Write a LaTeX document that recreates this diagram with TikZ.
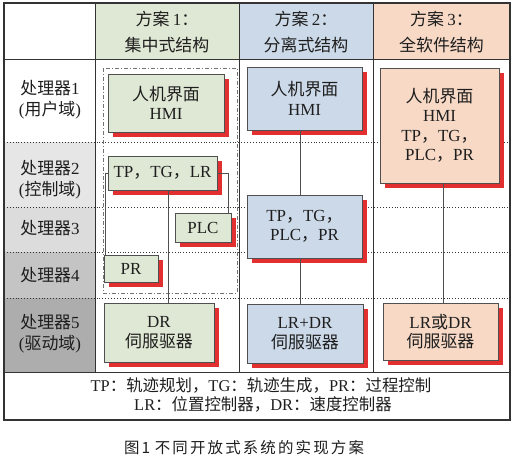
\documentclass[tikz,border=0pt]{standalone}
\usepackage{fontspec}
\setmainfont{Liberation Serif}
\newfontfamily\zhfont{Noto Sans CJK SC}
\newfontfamily\capfont{Noto Sans CJK SC}
\usetikzlibrary{shadows,calc}
\newcommand\zh[1]{{\zhfont#1}}
\definecolor{txt}{HTML}{1E1E1E}
\definecolor{boxline}{HTML}{505050}
\definecolor{gridline}{HTML}{333333}
\definecolor{shred}{HTML}{E23030}
\definecolor{gbox}{HTML}{DFE8D4}
\definecolor{bbox}{HTML}{CCD9E8}
\definecolor{pbox}{HTML}{F7D9C6}
\definecolor{gra}{HTML}{E6E6E6}
\definecolor{grb}{HTML}{DCDCDC}
\definecolor{grc}{HTML}{C4C4C4}
\definecolor{grd}{HTML}{ADADAD}
\begin{document}
\begin{tikzpicture}[x=1bp,y=-1bp,
  box/.style={draw=boxline, line width=0.8bp, inner sep=0pt, align=center, text=txt,
    font=\fontsize{17}{19.5}\selectfont,
    drop shadow={shadow xshift=5bp, shadow yshift=-5bp, fill=shred, opacity=1}},
  lab/.style={align=center, text=txt, inner sep=0pt, font=\fontsize{17}{21}\selectfont},
  head/.style={align=center, text=txt, inner sep=0pt, font=\fontsize{17}{27}\selectfont},
  foot/.style={align=center, text=txt, inner sep=0pt, font=\fontsize{16.5}{19}\selectfont},
  conn/.style={draw=boxline, line width=0.8bp},
  rowline/.style={draw=gridline, line width=0.9bp, dotted},
  colline/.style={draw=gridline, line width=0.9bp}]
\useasboundingbox (0,0) rectangle (513,458);
% backgrounds
\fill[gbox] (95,3) rectangle (239,59);
\fill[bbox] (239,3) rectangle (373,59);
\fill[pbox] (373,3) rectangle (510,59);
\fill[gra] (4,142) rectangle (95,207);
\fill[grb] (4,207) rectangle (95,252);
\fill[grc] (4,252) rectangle (95,298);
\fill[grd] (4,298) rectangle (95,372);
% grid
\foreach \yy in {142,207,252,298} \draw[rowline] (4,\yy) -- (510,\yy);
\draw[colline] (4,59) -- (510,59);
\draw[colline] (4,372) -- (510,372);
\foreach \xx in {95,239,373} \draw[colline] (\xx,3) -- (\xx,372);
\draw[draw=gridline, line width=1.3bp] (4,3) rectangle (510,420);
% dash-dot region
\draw[draw=boxline!80, line width=0.8bp, dash pattern=on 4bp off 2bp on 1bp off 2bp] (103,68) rectangle (237,293);
% headers
\node[head] (h1) at (167,32) {\zh{方案}\hspace{0.2em}1\zh{：}\\\zh{集中式结构}};
\node[head] (h2) at (306,32) {\zh{方案}\hspace{0.2em}2\zh{：}\\\zh{分离式结构}};
\node[head] (h3) at (441.5,32) {\zh{方案}\hspace{0.2em}3\zh{：}\\\zh{全软件结构}};
% row labels
\node[lab] (r1) at (50,100) {\zh{处理器}1\\(\zh{用户域})};
\node[lab] (r2) at (50,180) {\zh{处理器}2\\(\zh{控制域})};
\node[lab] (r3) at (50,228) {\zh{处理器}3};
\node[lab] (r4) at (50,275) {\zh{处理器}4};
\node[lab] (r5) at (50,334) {\zh{处理器}5\\(\zh{驱动域})};
% boxes col 1
\node[box, fill=gbox, minimum width=116bp, minimum height=58bp] (c1hmi) at (166,103) {\zh{人机界面}\\HMI};
\node[box, fill=gbox, minimum width=109bp, minimum height=34bp] (c1tp) at (162.5,173) {TP\zh{，}TG\zh{，}LR};
\node[box, fill=gbox, minimum width=56bp, minimum height=29bp] (c1plc) at (203,227.5) {PLC};
\node[box, fill=gbox, minimum width=54bp, minimum height=27bp] (c1pr) at (131,268.5) {PR};
\node[box, fill=gbox, minimum width=110bp, minimum height=59bp] (c1dr) at (159,332.5) {DR\\\zh{伺服驱器}};
% boxes col 2
\node[box, fill=bbox, minimum width=115bp, minimum height=63bp] (c2hmi) at (304.5,98.5) {\zh{人机界面}\\HMI};
\node[box, fill=bbox, minimum width=115bp, minimum height=63bp] (c2tp) at (304.5,226.5) {TP\zh{，}TG\zh{，}\\PLC\zh{，}PR};
\node[box, fill=bbox, minimum width=116bp, minimum height=59bp] (c2dr) at (305,333.5) {LR+DR\\\zh{伺服驱器}};
% boxes col 3
\node[box, fill=pbox, minimum width=119bp, minimum height=115bp] (c3big) at (439.5,125.5) {\zh{人机界面}\\HMI\\TP\zh{，}TG\zh{，}\\PLC\zh{，}PR};
\node[box, fill=pbox, minimum width=115bp, minimum height=57bp] (c3dr) at (440.5,331.5) {LR\zh{或}DR\\\zh{伺服驱器}};
% connectors
\draw[conn] (c1tp.west) -- ++(-2,0) coordinate (la) -- (la |- c1pr.north);
\draw[conn] (c1tp.east) -| ($(c1plc.north east)+(-3,0)$);
\draw[conn] ($(c1tp.south)+(5.5,0)$) coordinate (ma) -- (ma |- c1dr.north);
\draw[conn] ($(c2hmi.south)+(-4,0)$) coordinate (na) -- (na |- c2tp.north);
\draw[conn] ($(c2tp.south)+(-4,0)$) coordinate (nb) -- (nb |- c2dr.north);
\draw[conn] ($(c3big.south)+(4,0)$) coordinate (pa) -- (pa |- c3dr.north);
% footer
\node[foot] (f1) at (261,385) {TP\zh{：轨迹规划，}TG\zh{：轨迹生成，}PR\zh{：过程控制}};
\node[foot] (f2) at (263,404) {LR\zh{：位置控制器，}DR\zh{：速度控制器}};
% caption
\node[text=txt, inner sep=0pt, font=\fontsize{15.5}{18}\capfont\addfontfeature{LetterSpace=14}] (cap) at (244,448) {图1\hspace{0.3em}不同开放式系统的实现方案};
\end{tikzpicture}
\end{document}
